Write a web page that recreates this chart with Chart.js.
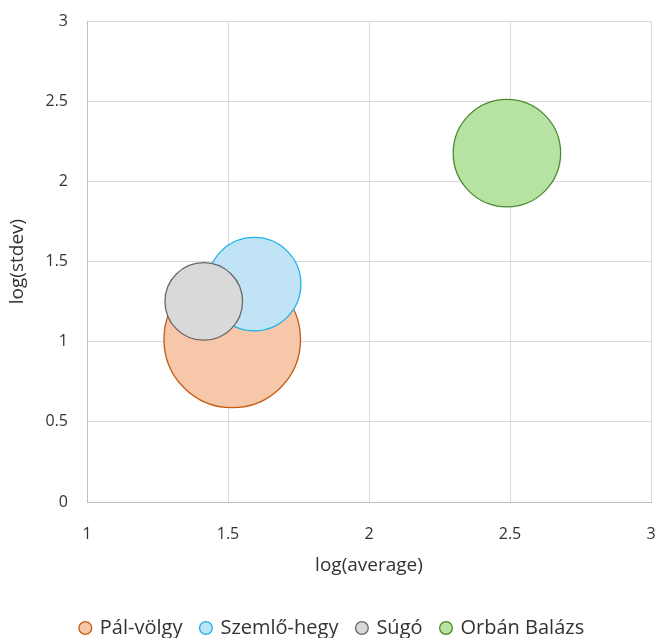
<!DOCTYPE html>
<html>
<head>
<meta charset="utf-8">
<script src="https://cdn.jsdelivr.net/npm/chart.js@4/dist/chart.umd.min.js"></script>
<style>
  body { margin: 0; background: #fff; }
  #wrap { width: 657px; height: 638px; position: relative; }
</style>
</head>
<body>
<div id="wrap"><canvas id="chart"></canvas></div>
<script>
const seriesNames = ['Pál-völgy', 'Szemlő-hegy', 'Súgó', 'Orbán Balázs'];
const logAverage = [1.515, 1.593, 1.414, 2.489];
const logStdev = [1.014, 1.359, 1.251, 2.176];
const bubbleSizes = [4660, 2180, 1505, 2885];
const xTicks = [1, 1.5, 2, 2.5, 3];
const yTicks = [0, 0.5, 1, 1.5, 2, 2.5, 3];

const fills = ['#F6C7A9', '#C0E4F5', '#D9D9D9', '#B6E3A1'];
const borders = ['#C55A11', '#1EB2EA', '#666666', '#4B8A2E'];
const drawOrder = [3, 2, 1, 4];

const FONT = "'Open Sans', 'DejaVu Sans', sans-serif";
const textColor = '#333333';

// bubbles are allowed to overflow; don't let Chart.js shrink the plot for them
Chart.BubbleController.prototype.getMaxOverflow = function() { return 0; };

const datasets = seriesNames.map((name, i) => ({
    label: name,
    data: [{ x: logAverage[i], y: logStdev[i], r: Math.sqrt(bubbleSizes[i]) }],
    backgroundColor: fills[i],
    borderColor: borders[i],
    borderWidth: 1.3,
    hoverBorderWidth: 1.3,
    order: drawOrder[i]
}));

// squeeze the legend box so it sits near the bottom, nudge it right a little
const legendTweak = {
    id: 'legendTweak',
    afterInit(chart) {
        const lg = chart.legend;
        const fit = lg.fit;
        const draw = lg.draw;
        lg.fit = function() {
            fit.call(this);
            this.height = 39;
        };
        lg.draw = function() {
            this.ctx.save();
            this.ctx.translate(7, 0);
            draw.call(this);
            this.ctx.restore();
        };
    }
};

new Chart(document.getElementById('chart'), {
    type: 'bubble',
    data: { datasets: datasets },
    plugins: [legendTweak],
    options: {
        responsive: true,
        maintainAspectRatio: false,
        animation: false,
        layout: { padding: { left: 0, right: 6, top: 21, bottom: 0 } },
        plugins: {
            legend: {
                position: 'bottom',
                labels: {
                    usePointStyle: true,
                    pointStyle: 'circle',
                    boxWidth: 9,
                    boxHeight: 9,
                    padding: 19,
                    color: textColor,
                    font: { family: FONT, size: 20 },
                    sort: (a, b) => a.datasetIndex - b.datasetIndex
                }
            },
            tooltip: { enabled: false }
        },
        scales: {
            x: {
                type: 'linear',
                min: 1,
                max: 3,
                afterBuildTicks: s => { s.ticks = xTicks.map(v => ({ value: v })); },
                afterFit: s => { s.height = 97; s.paddingLeft = 0; s.paddingRight = 0; },
                grid: { color: '#D9D9D9', drawTicks: false },
                border: { color: '#BFBFBF' },
                ticks: {
                    padding: 23,
                    color: textColor,
                    font: { family: FONT, size: 16 },
                    callback: v => String(v)
                },
                title: {
                    display: true,
                    text: 'log(average)',
                    color: textColor,
                    font: { family: FONT, size: 19 },
                    padding: { top: 0, bottom: 22 }
                }
            },
            y: {
                type: 'linear',
                min: 0,
                max: 3,
                afterBuildTicks: s => { s.ticks = yTicks.map(v => ({ value: v })); },
                afterFit: s => { s.width = 87; s.paddingTop = 0; s.paddingBottom = 0; },
                grid: { color: '#D9D9D9', drawTicks: false },
                border: { color: '#BFBFBF' },
                ticks: {
                    padding: 19,
                    color: textColor,
                    font: { family: FONT, size: 16 },
                    callback: v => String(v)
                },
                title: {
                    display: true,
                    text: 'log(stdev)',
                    color: textColor,
                    font: { family: FONT, size: 19 },
                    padding: { top: 6, bottom: 0 }
                }
            }
        }
    }
});
</script>
</body>
</html>
